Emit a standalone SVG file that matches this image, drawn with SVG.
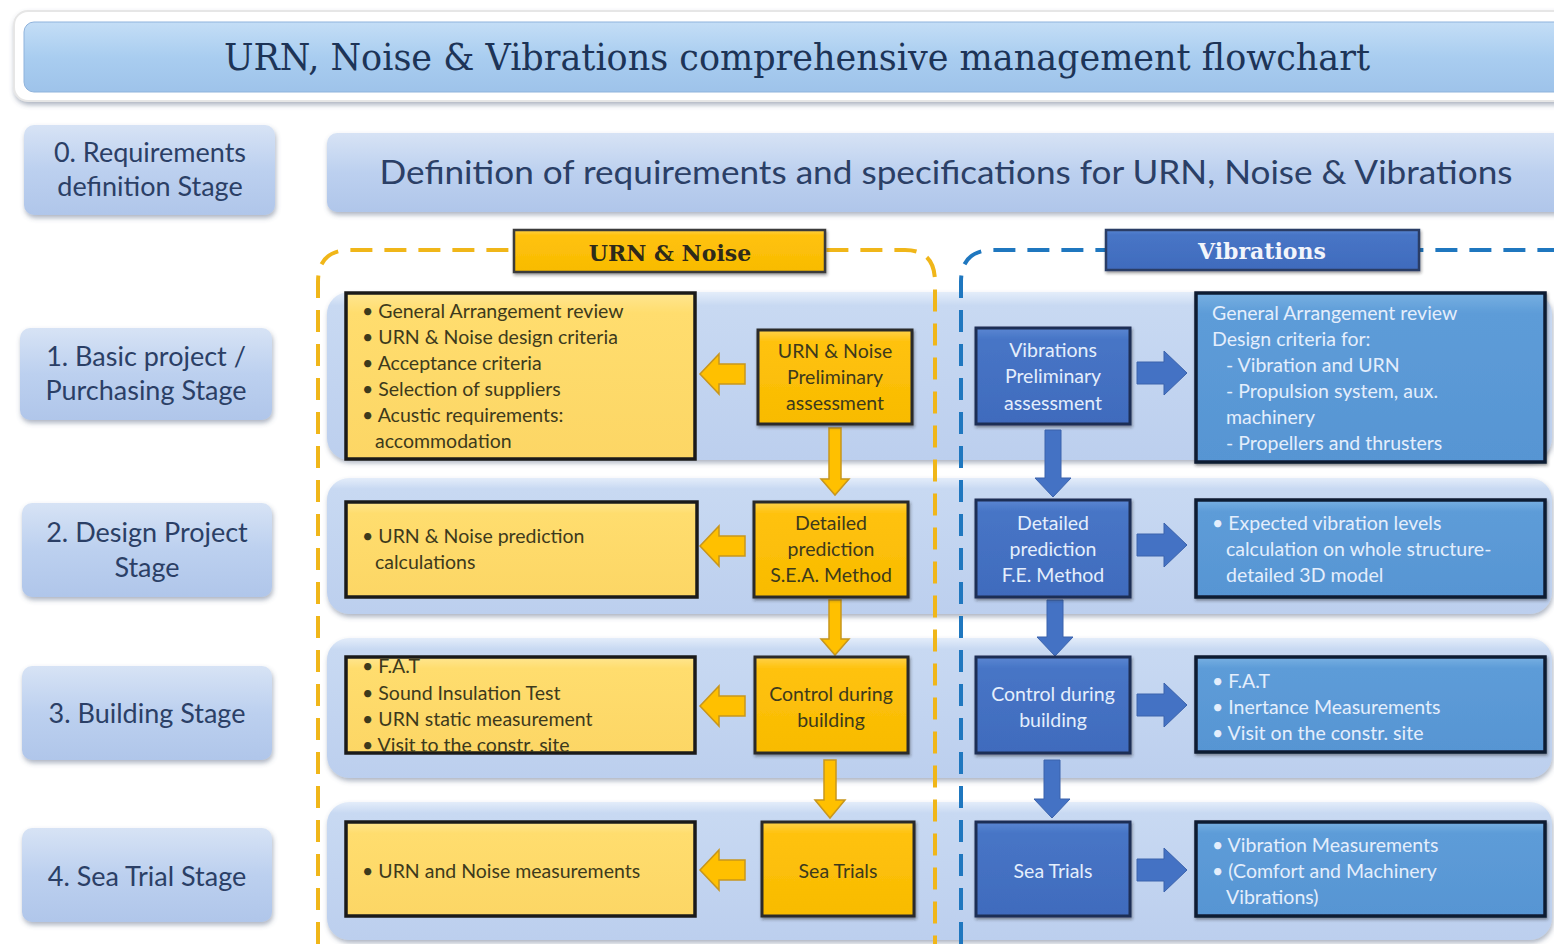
<svg xmlns="http://www.w3.org/2000/svg" width="1554" height="944" viewBox="0 0 1554 944">
  <defs>
    <linearGradient id="gTitle" x1="0" y1="0" x2="0" y2="1">
      <stop offset="0" stop-color="#c4def6"/>
      <stop offset="0.5" stop-color="#a9cdf0"/>
      <stop offset="1" stop-color="#9ec3ea"/>
    </linearGradient>
    <linearGradient id="gStage" x1="0" y1="0" x2="0" y2="1">
      <stop offset="0" stop-color="#d7e3f5"/>
      <stop offset="0.5" stop-color="#bcd0ef"/>
      <stop offset="1" stop-color="#b0c6ea"/>
    </linearGradient>
    <linearGradient id="gBand" x1="0" y1="0" x2="0" y2="1">
      <stop offset="0" stop-color="#e4edfa"/>
      <stop offset="0.08" stop-color="#c8d9f2"/>
      <stop offset="1" stop-color="#bccfee"/>
    </linearGradient>
    <linearGradient id="gYellow" x1="0" y1="0" x2="0" y2="1">
      <stop offset="0" stop-color="#ffd24a"/>
      <stop offset="0.12" stop-color="#ffc20e"/>
      <stop offset="1" stop-color="#f8bb00"/>
    </linearGradient>
    <linearGradient id="gPale" x1="0" y1="0" x2="0" y2="1">
      <stop offset="0" stop-color="#ffe690"/>
      <stop offset="0.12" stop-color="#ffdd6e"/>
      <stop offset="1" stop-color="#fcd665"/>
    </linearGradient>
    <linearGradient id="gDark" x1="0" y1="0" x2="0" y2="1">
      <stop offset="0" stop-color="#5a86d2"/>
      <stop offset="0.12" stop-color="#4775c6"/>
      <stop offset="1" stop-color="#406bbd"/>
    </linearGradient>
    <linearGradient id="gMid" x1="0" y1="0" x2="0" y2="1">
      <stop offset="0" stop-color="#78b0e2"/>
      <stop offset="0.12" stop-color="#5d9cd8"/>
      <stop offset="1" stop-color="#5795d3"/>
    </linearGradient>
    <filter id="shadow" x="-5%" y="-10%" width="110%" height="130%">
      <feDropShadow dx="1" dy="3" stdDeviation="2.5" flood-color="#4a5a78" flood-opacity="0.45"/>
    </filter>
    <filter id="soft" x="-5%" y="-10%" width="110%" height="130%">
      <feDropShadow dx="1" dy="2" stdDeviation="1.5" flood-color="#222" flood-opacity="0.45"/>
    </filter>
  </defs>
  <style>
    .stage { fill: url(#gStage); filter: url(#shadow); }
    .stageText { font-family: Lato, "Open Sans", sans-serif; font-size: 27px; fill: #2b3f66; text-anchor: middle; }
    .band { fill: url(#gBand); filter: url(#shadow); }
    .yelBig { fill: url(#gPale); stroke: #1a1a1a; stroke-width: 3.5; }
    .yelSmall { fill: url(#gYellow); stroke: #2a2a2a; stroke-width: 3; filter: url(#soft); }
    .bluSmall { fill: url(#gDark); stroke: #1f2f55; stroke-width: 3; filter: url(#soft); }
    .bluBig { fill: url(#gMid); stroke: #0f1b33; stroke-width: 3.5; filter: url(#soft); }
    .yt { font-family: Lato, "Open Sans", sans-serif; font-size: 19.5px; fill: #3d3a1c; }
    .yc { font-family: Lato, "Open Sans", sans-serif; font-size: 19.5px; fill: #3d3a1c; text-anchor: middle; }
    .bt { font-family: Lato, "Open Sans", sans-serif; font-size: 19.5px; fill: #e4eefc; }
    .bc { font-family: Lato, "Open Sans", sans-serif; font-size: 19.5px; fill: #e4eefc; text-anchor: middle; }
    .yArrow { fill: #ffc000; stroke: #c8961c; stroke-width: 1.5; }
    .bArrow { fill: #4472c4; stroke: #3a62ac; stroke-width: 1; }
    .dashY { fill: none; stroke: #f0b619; stroke-width: 4; stroke-dasharray: 22 12; }
    .dashB { fill: none; stroke: #1f77bf; stroke-width: 4; stroke-dasharray: 22 12; }
  </style>

  <rect width="1554" height="944" fill="#ffffff"/>

  <!-- Title -->
  <g id="title">
    <rect x="14" y="11" width="1560" height="90" rx="14" fill="#ffffff" stroke="#e6e6e6" stroke-width="2" filter="url(#shadow)"/>
    <rect x="24" y="22" width="1550" height="70" rx="10" fill="url(#gTitle)" stroke="#8fb3dc" stroke-width="1"/>
    <text x="797" y="70" text-anchor="middle" font-family="'DejaVu Serif', 'Liberation Serif', serif" font-size="37" fill="#1d3457" textLength="1146" lengthAdjust="spacingAndGlyphs">URN, Noise &amp; Vibrations comprehensive management flowchart</text>
  </g>

  <!-- Stage labels -->
  <g id="stage0">
    <rect class="stage" x="24" y="125" width="251" height="90" rx="10"/>
    <text class="stageText" x="150" y="162">0. Requirements</text>
    <text class="stageText" x="150" y="196">definition Stage</text>
  </g>
  <g id="definition">
    <rect class="stage" x="327" y="133" width="1245" height="79" rx="10"/>
    <text x="946" y="184" text-anchor="middle" font-family="Lato, 'Open Sans', sans-serif" font-size="32" fill="#2b3f66" textLength="1133" lengthAdjust="spacingAndGlyphs">Definition of requirements and specifications for URN, Noise &amp; Vibrations</text>
  </g>
  <g id="stage1">
    <rect class="stage" x="20" y="328" width="252" height="92" rx="10"/>
    <text class="stageText" x="146" y="366">1. Basic project /</text>
    <text class="stageText" x="146" y="400">Purchasing Stage</text>
  </g>
  <g id="stage2">
    <rect class="stage" x="22" y="503" width="250" height="94" rx="10"/>
    <text class="stageText" x="147" y="542">2. Design Project</text>
    <text class="stageText" x="147" y="577">Stage</text>
  </g>
  <g id="stage3">
    <rect class="stage" x="22" y="666" width="250" height="94" rx="10"/>
    <text class="stageText" x="147" y="723">3. Building Stage</text>
  </g>
  <g id="stage4">
    <rect class="stage" x="22" y="828" width="250" height="94" rx="10"/>
    <text class="stageText" x="147" y="886">4. Sea Trial Stage</text>
  </g>

  <!-- Stage bands -->
  <g id="bands">
    <rect class="band" x="327" y="292" width="1225" height="168" rx="22"/>
    <rect class="band" x="327" y="478" width="1225" height="136" rx="22"/>
    <rect class="band" x="327" y="638" width="1225" height="140" rx="22"/>
    <rect class="band" x="327" y="802" width="1225" height="138" rx="22"/>
  </g>

  <!-- Discipline containers -->
  <g id="containers">
    <path class="dashY" d="M318 944 L318 282 Q318 250 350 250 L905 250 Q935 250 935 282 L935 944"/>
    <path class="dashB" d="M961 944 L961 282 Q961 250 993 250 L1560 250"/>
  </g>

  <g id="header-urn">
    <rect x="514" y="230" width="311" height="42" fill="url(#gYellow)" stroke="#3a3a3a" stroke-width="2.5" filter="url(#soft)"/>
    <text x="670" y="261" text-anchor="middle" font-family="'DejaVu Serif', 'Liberation Serif', serif" font-weight="bold" font-size="22" fill="#2e2a1a">URN &amp; Noise</text>
  </g>
  <g id="header-vib">
    <rect x="1106" y="230" width="313" height="40" fill="url(#gDark)" stroke="#2a3c66" stroke-width="2.5" filter="url(#soft)"/>
    <text x="1262" y="259" text-anchor="middle" font-family="'DejaVu Serif', 'Liberation Serif', serif" font-weight="bold" font-size="22" fill="#f2f5fb">Vibrations</text>
  </g>

  <!-- Connectors -->
  <g id="connectors">
    <!-- yellow: small box to list (pointing left) -->
    <path class="yArrow" d="M745 364 L719 364 L719 354 L700 374 L719 394 L719 384 L745 384 Z"/>
    <path class="yArrow" d="M745 536 L719 536 L719 526 L700 546 L719 566 L719 556 L745 556 Z"/>
    <path class="yArrow" d="M745 696 L719 696 L719 686 L700 706 L719 726 L719 716 L745 716 Z"/>
    <path class="yArrow" d="M745 860 L719 860 L719 850 L700 870 L719 890 L719 880 L745 880 Z"/>
    <!-- yellow: stage to stage (pointing down) -->
    <path class="yArrow" d="M829 428 L841 428 L841 479 L849 479 L835 495 L821 479 L829 479 Z"/>
    <path class="yArrow" d="M829 600 L841 600 L841 639 L849 639 L835 655 L821 639 L829 639 Z"/>
    <path class="yArrow" d="M824 760 L836 760 L836 800 L845 800 L830 818 L815 800 L824 800 Z"/>
    <!-- blue: small box to list (pointing right) -->
    <path class="bArrow" d="M1137 362 L1164 362 L1164 351 L1187 373 L1164 395 L1164 384 L1137 384 Z"/>
    <path class="bArrow" d="M1137 534 L1164 534 L1164 523 L1187 545 L1164 567 L1164 556 L1137 556 Z"/>
    <path class="bArrow" d="M1137 694 L1164 694 L1164 683 L1187 705 L1164 727 L1164 716 L1137 716 Z"/>
    <path class="bArrow" d="M1137 859 L1164 859 L1164 848 L1187 870 L1164 892 L1164 881 L1137 881 Z"/>
    <!-- blue: stage to stage (pointing down) -->
    <path class="bArrow" d="M1045 430 L1061 430 L1061 478 L1071 478 L1053 497 L1035 478 L1045 478 Z"/>
    <path class="bArrow" d="M1047 600 L1063 600 L1063 637 L1073 637 L1055 656 L1037 637 L1047 637 Z"/>
    <path class="bArrow" d="M1044 760 L1060 760 L1060 799 L1070 799 L1052 818 L1034 799 L1044 799 Z"/>
  </g>

  <!-- URN & Noise column -->
  <g id="urn1-list">
    <rect class="yelBig" x="346" y="293" width="349" height="166"/>
    <text class="yt" x="362" y="318">• General Arrangement review</text>
    <text class="yt" x="362" y="344">• URN &amp; Noise design criteria</text>
    <text class="yt" x="362" y="370">• Acceptance criteria</text>
    <text class="yt" x="362" y="396">• Selection of suppliers</text>
    <text class="yt" x="362" y="422">• Acustic requirements:</text>
    <text class="yt" x="375" y="448">accommodation</text>
  </g>
  <g id="urn1-assess">
    <rect class="yelSmall" x="758" y="330" width="154" height="94"/>
    <text class="yc" x="835" y="358">URN &amp; Noise</text>
    <text class="yc" x="835" y="384">Preliminary</text>
    <text class="yc" x="835" y="410">assessment</text>
  </g>
  <g id="urn2-list">
    <rect class="yelBig" x="346" y="502" width="351" height="95"/>
    <text class="yt" x="362" y="543">• URN &amp; Noise prediction</text>
    <text class="yt" x="375" y="569">calculations</text>
  </g>
  <g id="urn2-predict">
    <rect class="yelSmall" x="754" y="502" width="154" height="95"/>
    <text class="yc" x="831" y="530">Detailed</text>
    <text class="yc" x="831" y="556">prediction</text>
    <text class="yc" x="831" y="582">S.E.A. Method</text>
  </g>
  <g id="urn3-list">
    <rect class="yelBig" x="346" y="657" width="349" height="96"/>
    <text class="yt" x="362" y="673">• F.A.T</text>
    <text class="yt" x="362" y="700">• Sound Insulation Test</text>
    <text class="yt" x="362" y="726">• URN static measurement</text>
    <text class="yt" x="362" y="752">• Visit to the constr. site</text>
  </g>
  <g id="urn3-control">
    <rect class="yelSmall" x="755" y="657" width="153" height="96"/>
    <text class="yc" x="831" y="701">Control during</text>
    <text class="yc" x="831" y="727">building</text>
  </g>
  <g id="urn4-list">
    <rect class="yelBig" x="346" y="822" width="349" height="94"/>
    <text class="yt" x="362" y="878">• URN and Noise measurements</text>
  </g>
  <g id="urn4-sea">
    <rect class="yelSmall" x="762" y="822" width="152" height="94"/>
    <text class="yc" x="838" y="878">Sea Trials</text>
  </g>

  <!-- Vibrations column -->
  <g id="vib1-assess">
    <rect class="bluSmall" x="976" y="328" width="154" height="96"/>
    <text class="bc" x="1053" y="357">Vibrations</text>
    <text class="bc" x="1053" y="383">Preliminary</text>
    <text class="bc" x="1053" y="410">assessment</text>
  </g>
  <g id="vib1-list">
    <rect class="bluBig" x="1196" y="293" width="349" height="169"/>
    <text class="bt" x="1212" y="320">General Arrangement review</text>
    <text class="bt" x="1212" y="346">Design criteria for:</text>
    <text class="bt" x="1226" y="372">- Vibration and URN</text>
    <text class="bt" x="1226" y="398">- Propulsion system, aux.</text>
    <text class="bt" x="1226" y="424">machinery</text>
    <text class="bt" x="1226" y="450">- Propellers and thrusters</text>
  </g>
  <g id="vib2-predict">
    <rect class="bluSmall" x="976" y="500" width="154" height="97"/>
    <text class="bc" x="1053" y="530">Detailed</text>
    <text class="bc" x="1053" y="556">prediction</text>
    <text class="bc" x="1053" y="582">F.E. Method</text>
  </g>
  <g id="vib2-list">
    <rect class="bluBig" x="1196" y="500" width="349" height="97"/>
    <text class="bt" x="1212" y="530">• Expected vibration levels</text>
    <text class="bt" x="1226" y="556">calculation on whole structure-</text>
    <text class="bt" x="1226" y="582">detailed 3D model</text>
  </g>
  <g id="vib3-control">
    <rect class="bluSmall" x="976" y="657" width="154" height="96"/>
    <text class="bc" x="1053" y="701">Control during</text>
    <text class="bc" x="1053" y="727">building</text>
  </g>
  <g id="vib3-list">
    <rect class="bluBig" x="1196" y="657" width="349" height="95"/>
    <text class="bt" x="1212" y="688">• F.A.T</text>
    <text class="bt" x="1212" y="714">• Inertance Measurements</text>
    <text class="bt" x="1212" y="740">• Visit on the constr. site</text>
  </g>
  <g id="vib4-sea">
    <rect class="bluSmall" x="976" y="822" width="154" height="94"/>
    <text class="bc" x="1053" y="878">Sea Trials</text>
  </g>
  <g id="vib4-list">
    <rect class="bluBig" x="1196" y="822" width="349" height="94"/>
    <text class="bt" x="1212" y="852">• Vibration Measurements</text>
    <text class="bt" x="1212" y="878">• (Comfort and Machinery</text>
    <text class="bt" x="1226" y="904">Vibrations)</text>
  </g>
</svg>
